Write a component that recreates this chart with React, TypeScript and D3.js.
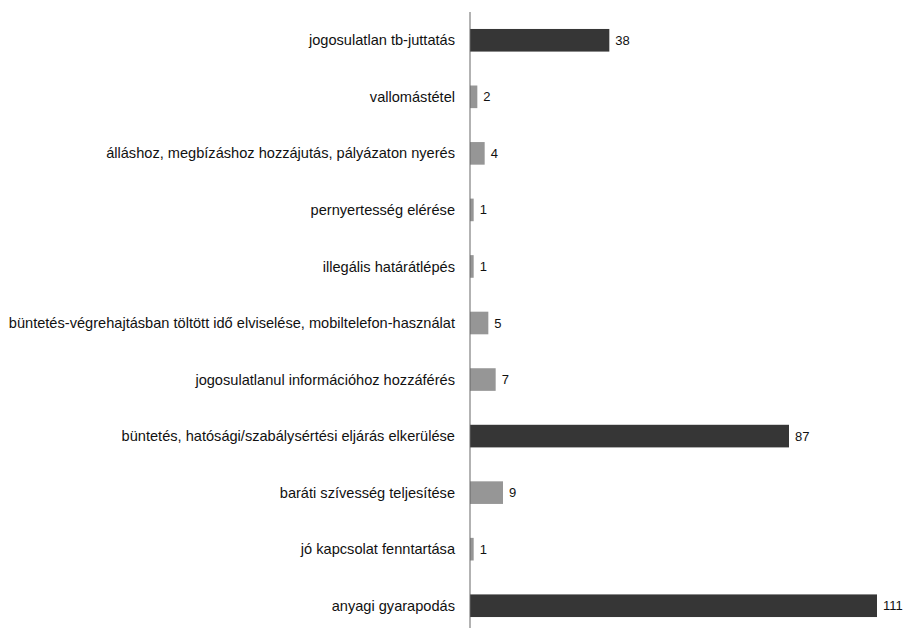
import React from "react";
import * as d3 from "d3";

const categories = [
  "jogosulatlan tb-juttatás",
  "vallomástétel",
  "álláshoz, megbízáshoz hozzájutás, pályázaton nyerés",
  "pernyertesség elérése",
  "illegális határátlépés",
  "büntetés-végrehajtásban töltött idő elviselése, mobiltelefon-használat",
  "jogosulatlanul információhoz hozzáférés",
  "büntetés, hatósági/szabálysértési eljárás elkerülése",
  "baráti szívesség teljesítése",
  "jó kapcsolat fenntartása",
  "anyagi gyarapodás",
];
const values = [38, 2, 4, 1, 1, 5, 7, 87, 9, 1, 111];
const highlighted = [true, false, false, false, false, false, false, true, false, false, true];

const W = 907;
const H = 628;
const axisX = 470;

export default function App() {
  const x = d3.scaleLinear().domain([0, 111]).range([axisX, 877]);
  const y = d3.scaleBand<string>().domain(categories).range([12, 634]).paddingInner(0.6).paddingOuter(0.3);
  return (
    <svg
      width={W}
      height={H}
      style={{ position: "absolute", left: 0, top: 0, background: "#fff" }}
      fontFamily="'Liberation Sans', Arial, sans-serif"
    >
      {categories.map((c, i) => {
        const yc = (y(c) as number) + y.bandwidth() / 2;
        return (
          <g key={c}>
            <rect
              x={x(0)}
              y={y(c)}
              width={x(values[i]) - x(0)}
              height={y.bandwidth()}
              fill={highlighted[i] ? "#363636" : "#969696"}
            />
            <text x={axisX - 15} y={yc} dy="0.35em" textAnchor="end" fontSize={14.6} fill="#111">
              {c}
            </text>
            <text x={x(values[i]) + 6} y={yc} dy="0.35em" fontSize={13} fill="#111">
              {values[i]}
            </text>
          </g>
        );
      })}
      <line x1={axisX} x2={axisX} y1={12} y2={H} stroke="#666" strokeWidth={1} />
    </svg>
  );
}
